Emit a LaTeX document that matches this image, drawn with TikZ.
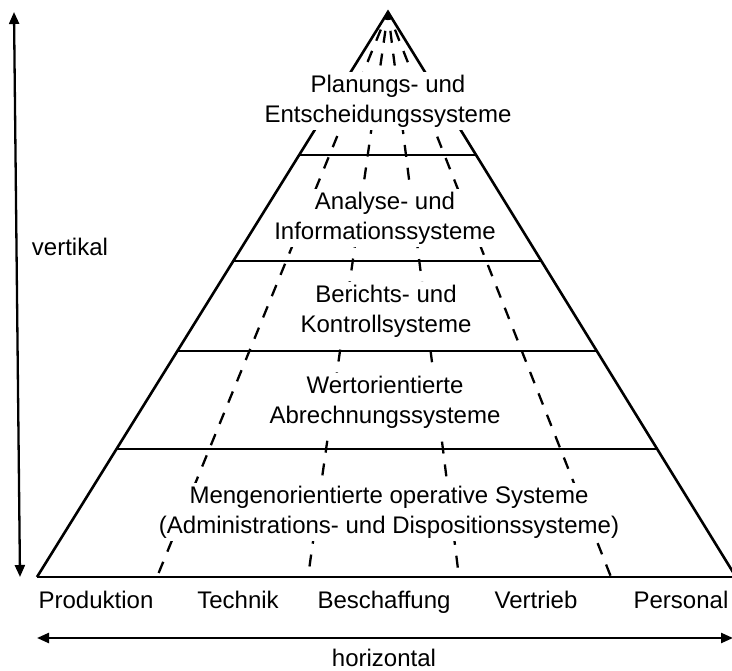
\documentclass[tikz,border=0pt]{standalone}
\usepackage{fontspec}
\setmainfont{Liberation Sans}
\usetikzlibrary{calc,arrows.meta}
\begin{document}
\begin{tikzpicture}[x=1pt,y=-1pt,
  outline/.style={line width=2.6pt,line join=miter},
  sector/.style={line width=2.3pt,dash pattern=on 12pt off 11pt,dash phase=4pt},
  level/.style={fill=white,inner sep=3pt,align=center,font=\fontsize{24}{30}\selectfont},
  label/.style={inner sep=0pt,anchor=base,font=\fontsize{24}{28}\selectfont},
  axis/.style={line width=2.3pt,{Triangle[length=12pt,width=10pt]}-{Triangle[length=12pt,width=10pt]}}]
\useasboundingbox (0,0) rectangle (732,671);
% pyramid corners
\coordinate (apex) at (388,12);
\coordinate (bl) at (37,577);
\coordinate (br) at (736,577);
% sector boundaries on the base
\coordinate (s1) at (157,577);
\coordinate (s2) at (308,577);
\coordinate (s3) at (459,577);
\coordinate (s4) at (611,577);
% dashed sector lines
\foreach \s in {s1,s2,s3,s4}
  \draw[sector] (apex) -- (\s);
% level captions inside the pyramid (they mask the dashed lines)
\node[level] (n2) at (385,218) {Analyse- und\\Informationssysteme};
\node[level] (n3) at (386,311) {Berichts- und\\Kontrollsysteme};
\node[level] (n4) at (385,402) {Wertorientierte\\Abrechnungssysteme};
\node[level] (n5) at (389,512) {Mengenorientierte operative Systeme\\(Administrations- und Dispositionssysteme)};
% outer shape
\draw[outline] (bl) -- (apex) -- (br);
\draw[outline] (bl) -- (br);
% level separators
\foreach \t [count=\i] in {0.2531,0.4407,0.6,0.7735}{
  \coordinate (l\i) at ($(apex)!\t!(bl)$);
  \coordinate (r\i) at ($(apex)!\t!(br)$);
  \draw[outline] (l\i) -- (r\i);
}
% top caption breaks the outer edges
\node[level] (n1) at (388,101) {Planungs- und\\Entscheidungssysteme};
% sector captions
\node[label] (p1) at (96,608) {Produktion};
\node[label] (p2) at (238,608) {Technik};
\node[label] (p3) at (384,608) {Beschaffung};
\node[label] (p4) at (536,608) {Vertrieb};
\node[label] (p5) at (681,608) {Personal};
% axes
\coordinate (vt) at (14,12);
\coordinate (vb) at (20,577);
\draw[axis] (vb) -- (vt);
\node[label] (vl) at (70,256) {vertikal};
\coordinate (hl) at (37,638);
\coordinate (hr) at (733,638);
\draw[axis] (hl) -- (hr);
\node[label] (hz) at (384,666) {horizontal};
\end{tikzpicture}
\end{document}
